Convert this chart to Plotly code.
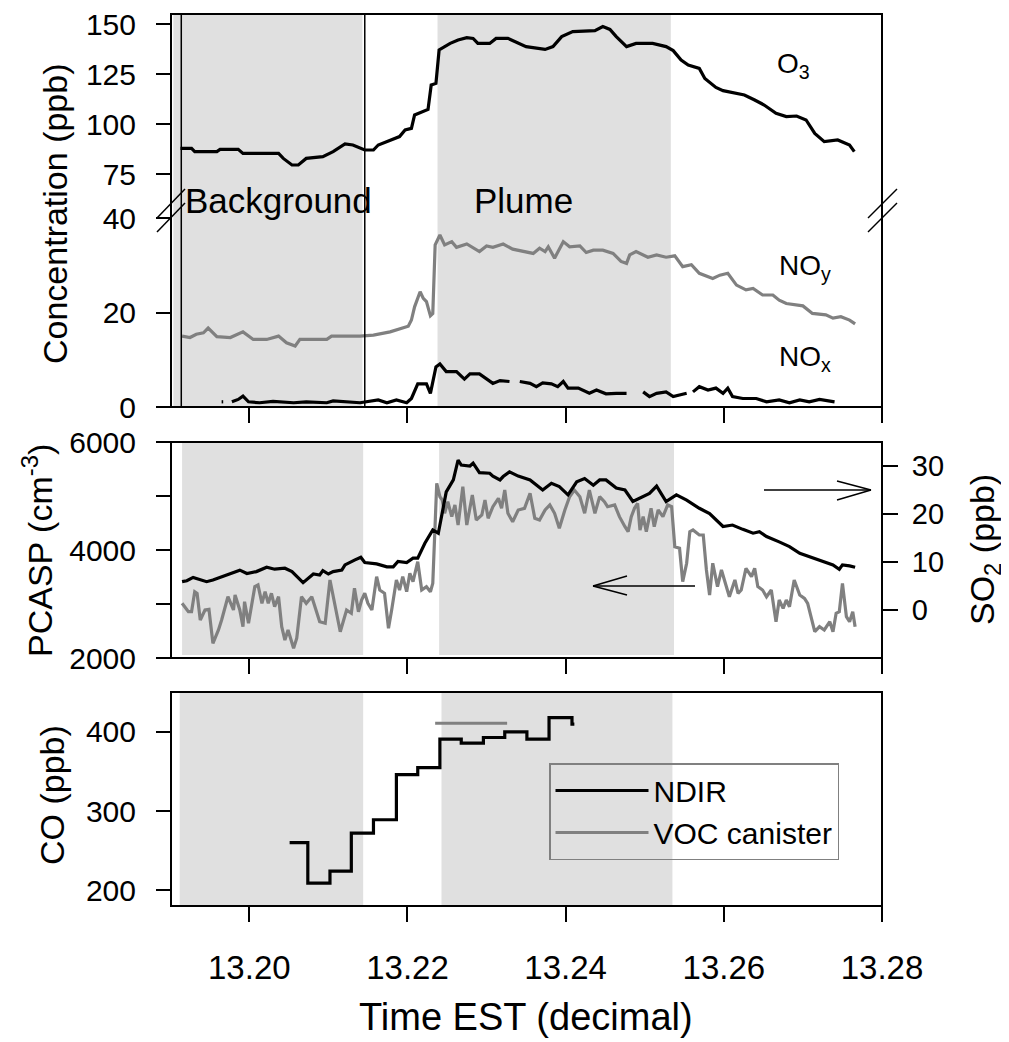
import plotly.graph_objects as go

# ---------------- data ----------------
# O3 (ppb), top panel upper segment
O3_T = [13.1913, 13.1927, 13.1931, 13.1959, 13.1963, 13.1986, 13.1992, 13.2037, 13.2043, 13.2054,
        13.2062, 13.2072, 13.2093, 13.2106, 13.2121, 13.2131, 13.2146, 13.2157, 13.2163, 13.2178,
        13.2190, 13.2197, 13.2205, 13.2209, 13.2226, 13.2230, 13.2236, 13.2240, 13.2247, 13.2254,
        13.2264, 13.2275, 13.2283, 13.2289, 13.2304, 13.2312, 13.2327, 13.2340, 13.2350, 13.2374,
        13.2384, 13.2395, 13.2409, 13.2437, 13.2447, 13.2456, 13.2464, 13.2477, 13.2489, 13.2510,
        13.2527, 13.2536, 13.2546, 13.2555, 13.2569, 13.2576, 13.2590, 13.2599, 13.2626, 13.2639,
        13.2651, 13.2666, 13.2679, 13.2692, 13.2704, 13.2715, 13.2727, 13.2744, 13.2759, 13.2765]
O3_V = [87.8, 87.8, 86.2, 86.2, 87.3, 87.3, 85.3, 85.3, 82.8, 79.5,
        79.5, 82.8, 83.7, 86.2, 90.0, 89.5, 87.0, 87.0, 89.5, 92.0,
        93.7, 97.0, 97.8, 104.5, 107.3, 119.5, 120.3, 137.0, 138.7, 140.3,
        142.0, 143.2, 142.8, 140.3, 140.3, 142.8, 142.8, 140.7, 138.7, 137.3,
        138.7, 143.7, 146.2, 146.7, 148.7, 147.3, 143.7, 138.7, 140.3, 140.3,
        138.7, 136.7, 132.0, 129.5, 127.8, 122.8, 118.3, 116.7, 114.5, 112.0,
        109.5, 105.3, 103.7, 104.0, 102.0, 95.3, 91.2, 92.0, 89.5, 86.2]

# NOy (ppb)
NOY_T = [13.1915, 13.1925, 13.1933, 13.1942, 13.1948, 13.1959, 13.1976, 13.1982, 13.1992, 13.2005,
         13.2022, 13.2037, 13.2047, 13.2058, 13.2064, 13.2098, 13.2104, 13.2140, 13.2157, 13.2178,
         13.2190, 13.2201, 13.2205, 13.2209, 13.2216, 13.2220, 13.2224, 13.2229, 13.2232, 13.2235,
         13.2241, 13.2247, 13.2256, 13.2262, 13.2275, 13.2291, 13.2300, 13.2308, 13.2321, 13.2333,
         13.2359, 13.2367, 13.2374, 13.2378, 13.2386, 13.2397, 13.2405, 13.2418, 13.2426, 13.2435,
         13.2447, 13.2460, 13.2470, 13.2477, 13.2481, 13.2489, 13.2504, 13.2515, 13.2527, 13.2538,
         13.2548, 13.2559, 13.2569, 13.2586, 13.2595, 13.2605, 13.2616, 13.2628, 13.2637, 13.2649,
         13.2662, 13.2670, 13.2679, 13.2692, 13.2700, 13.2712, 13.2729, 13.2738, 13.2748, 13.2759,
         13.2766]
NOY_V = [15.0, 14.7, 15.4, 15.7, 16.7, 14.9, 14.7, 15.2, 15.9, 14.3,
         14.3, 15.0, 13.6, 12.9, 14.3, 14.3, 15.0, 15.0, 15.2, 15.9,
         16.6, 17.1, 18.4, 21.2, 24.4, 23.0, 22.3, 19.3, 19.8, 34.3,
         36.4, 34.3, 35.0, 33.8, 34.5, 32.9, 34.1, 33.8, 34.5, 33.4,
         32.5, 33.6, 32.9, 33.9, 31.5, 35.0, 33.9, 34.1, 32.7, 33.2,
         33.2, 32.5, 30.8, 30.4, 32.2, 32.9, 31.7, 32.2, 31.7, 32.0,
         29.7, 30.1, 28.3, 27.2, 27.9, 28.3, 25.8, 24.8, 25.1, 23.7,
         23.7, 22.6, 21.9, 21.6, 21.4, 19.8, 19.5, 18.8, 19.1, 18.4,
         17.6]

# NOx (ppb), None marks data gaps
NOX_T = [13.1965, 13.1967, None,
         13.1978, 13.1986, 13.1992, 13.1999, 13.2013, 13.2030, 13.2056, 13.2072, 13.2098, 13.2106,
         13.2140, 13.2148, 13.2163, 13.2174, 13.2186, 13.2199, 13.2205, 13.2213, 13.2224, 13.2229,
         13.2236, 13.2241, 13.2249, 13.2262, 13.2272, 13.2279, 13.2291, 13.2308, 13.2317, 13.2329, None,
         13.2342, 13.2355, 13.2363, 13.2371, 13.2382, 13.2390, 13.2397, 13.2403, 13.2416, 13.2430,
         13.2439, 13.2451, 13.2464, 13.2477, None,
         13.2498, 13.2506, 13.2515, 13.2527, 13.2536, 13.2553, None,
         13.2561, 13.2569, 13.2580, 13.2590, 13.2599, 13.2605, 13.2611, 13.2624, 13.2641, 13.2654,
         13.2670, 13.2683, 13.2696, 13.2708, 13.2721, 13.2740]
NOX_V = [1.1, 1.1, None,
         1.1, 1.6, 2.3, 1.1, 0.9, 1.2, 0.9, 1.1, 0.9, 1.3,
         0.9, 1.1, 1.5, 0.9, 1.5, 0.9, 1.8, 4.9, 4.9, 2.9,
         8.5, 9.1, 7.5, 7.5, 5.9, 7.0, 7.0, 5.0, 5.6, 5.4, None,
         5.4, 5.0, 4.3, 5.1, 4.9, 4.3, 5.4, 4.0, 4.0, 2.9,
         3.6, 2.8, 2.9, 2.9, None,
         3.2, 2.2, 2.9, 3.2, 2.2, 2.9, None,
         3.2, 4.3, 3.6, 4.0, 2.9, 4.0, 2.2, 1.8, 1.8, 1.1,
         1.5, 0.9, 1.5, 1.1, 1.6, 1.1]

# PCASP (cm-3), middle panel left axis (grey)
PCASP_T = [13.1915, 13.1923, 13.1927, 13.1931, 13.1934, 13.1938, 13.1944, 13.1949, 13.1954, 13.1961,
           13.1965, 13.1969, 13.1973, 13.1980, 13.1982, 13.1988, 13.1992, 13.1994, 13.1999, 13.2007,
           13.2011, 13.2016, 13.2020, 13.2024, 13.2028, 13.2032, 13.2037, 13.2041, 13.2045, 13.2049,
           13.2056, 13.2060, 13.2066, 13.2072, 13.2079, 13.2089, 13.2096, 13.2102, 13.2108, 13.2115,
           13.2123, 13.2129, 13.2133, 13.2138, 13.2142, 13.2146, 13.2150, 13.2155, 13.2161, 13.2165,
           13.2171, 13.2176, 13.2180, 13.2186, 13.2190, 13.2194, 13.2199, 13.2203, 13.2207, 13.2213,
           13.2218, 13.2224, 13.2229, 13.2232, 13.2237, 13.2241, 13.2244, 13.2247, 13.2251, 13.2256,
           13.2260, 13.2264, 13.2270, 13.2275, 13.2282, 13.2287, 13.2294, 13.2298, 13.2302, 13.2308,
           13.2315, 13.2319, 13.2323, 13.2327, 13.2333, 13.2340, 13.2348, 13.2355, 13.2361, 13.2367,
           13.2374, 13.2380, 13.2386, 13.2392, 13.2399, 13.2405, 13.2411, 13.2418, 13.2424, 13.2430,
           13.2437, 13.2443, 13.2449, 13.2453, 13.2462, 13.2468, 13.2475, 13.2479, 13.2483, 13.2487,
           13.2491, 13.2494, 13.2498, 13.2502, 13.2508, 13.2512, 13.2517, 13.2523, 13.2529, 13.2534,
           13.2538, 13.2544, 13.2548, 13.2553, 13.2557, 13.2561, 13.2569, 13.2574, 13.2578, 13.2582,
           13.2586, 13.2592, 13.2597, 13.2603, 13.2607, 13.2614, 13.2618, 13.2622, 13.2628, 13.2635,
           13.2639, 13.2643, 13.2649, 13.2654, 13.2660, 13.2666, 13.2670, 13.2675, 13.2679, 13.2683,
           13.2689, 13.2696, 13.2702, 13.2706, 13.2710, 13.2715, 13.2721, 13.2727, 13.2734, 13.2738,
           13.2742, 13.2746, 13.2750, 13.2755, 13.2759, 13.2763, 13.2766]
PCASP_V = [3013, 2857, 2857, 3228, 3198, 2704, 2889, 2902, 2272, 2519,
           2704, 2950, 3135, 2889, 3167, 2889, 2580, 3043, 2643, 3321,
           3352, 3013, 3228, 3013, 3198, 2950, 3135, 2580, 2333, 2519,
           2180, 2365, 3135, 3013, 3135, 2672, 2643, 3445, 3013, 2487,
           2889, 2828, 3291, 2857, 3074, 3198, 3013, 2889, 3506, 3259,
           3198, 2550, 2889, 3445, 3259, 3506, 3228, 3569, 3413, 3784,
           3259, 3321, 3228, 3383, 5235, 4987, 4926, 4680, 4895, 4617,
           4834, 4463, 5172, 4463, 5019, 4556, 4648, 4926, 4587, 4802,
           4958, 4772, 5111, 4680, 4524, 4741, 4772, 5050, 4587, 4556,
           4741, 4834, 4680, 4402, 4741, 4987, 5111, 4987, 4680, 5111,
           4680, 4987, 4895, 4802, 4834, 4617, 4432, 4339, 4617, 4772,
           4865, 4370, 4617, 4339, 4772, 4432, 4741, 4617, 4834, 4802,
           4061, 4032, 3413, 3754, 4339, 4370, 4278, 4278, 3630, 3167,
           3754, 3321, 3630, 3321, 3135, 3445, 3198, 3259, 3661, 3506,
           3661, 3321, 3259, 3135, 3259, 2672, 3074, 2920, 3074, 2950,
           3445, 3167, 3105, 3013, 2796, 2487, 2580, 2519, 2672, 2487,
           2828, 2857, 3383, 2765, 2672, 2857, 2580]

# SO2 (ppb), middle panel right axis (black)
SO2_T = [13.1915, 13.1921, 13.1929, 13.1938, 13.1946, 13.1954, 13.1965, 13.1976, 13.1988, 13.1997,
         13.2009, 13.2022, 13.2032, 13.2045, 13.2054, 13.2068, 13.2081, 13.2089, 13.2093, 13.2100,
         13.2106, 13.2117, 13.2121, 13.2133, 13.2141, 13.2146, 13.2161, 13.2174, 13.2182, 13.2188,
         13.2199, 13.2207, 13.2213, 13.2222, 13.2227, 13.2232, 13.2239, 13.2249, 13.2258, 13.2264,
         13.2268, 13.2279, 13.2283, 13.2291, 13.2304, 13.2308, 13.2317, 13.2321, 13.2329, 13.2340,
         13.2355, 13.2371, 13.2382, 13.2392, 13.2403, 13.2414, 13.2424, 13.2435, 13.2443, 13.2451,
         13.2464, 13.2475, 13.2485, 13.2498, 13.2506, 13.2515, 13.2527, 13.2540, 13.2553, 13.2569,
         13.2582, 13.2599, 13.2611, 13.2624, 13.2637, 13.2645, 13.2654, 13.2670, 13.2683, 13.2696,
         13.2708, 13.2721, 13.2738, 13.2746, 13.2750, 13.2759, 13.2766]
SO2_V = [5.9, 6.1, 6.8, 6.25, 5.9, 6.25, 6.9, 7.6, 8.3, 7.6,
         8.0, 8.9, 8.5, 8.7, 8.0, 5.7, 7.5, 7.3, 8.2, 7.5,
         8.0, 8.3, 9.4, 10.4, 11.0, 9.9, 9.6, 9.0, 9.0, 10.1,
         9.9, 10.8, 10.8, 13.9, 15.4, 16.7, 16.0, 24.6, 27.1, 31.25,
         30.2, 30.0, 30.6, 28.6, 28.5, 27.9, 27.1, 27.8, 28.8, 27.9,
         27.1, 25.0, 26.4, 25.7, 24.0, 26.7, 27.4, 26.0, 27.1, 27.1,
         25.4, 25.0, 22.6, 23.6, 24.3, 25.8, 22.6, 24.0, 22.9, 21.2,
         20.1, 17.4, 17.7, 16.8, 16.0, 16.3, 15.3, 14.2, 13.2, 11.8,
         11.1, 10.4, 9.4, 8.5, 9.4, 9.2, 8.9]

# CO (ppb), bottom panel
CO_NDIR_T = [13.2051, 13.2074, 13.2102, 13.2129, 13.2157, 13.2186, 13.2213, 13.2241, 13.2268,
             13.2296, 13.2323, 13.2351, 13.2379, 13.2408, 13.2411]
CO_NDIR_V = [260, 209, 224, 272, 289, 346, 355, 391, 386, 393, 400, 391, 418, 410, 410]
CO_VOC_T = [13.2235, 13.2326]
CO_VOC_V = [411, 411]

# shaded periods (decimal hours): background and plume, per panel
SHADE_TOP = [(13.1904, 13.2143), (13.2238, 13.2533)]
SHADE_MID = [(13.1915, 13.2144), (13.2240, 13.2537)]
SHADE_BOT = [(13.1912, 13.2144), (13.2243, 13.2535)]
BG_MARKS = [13.1914, 13.2146]

X_TICKS = [13.20, 13.22, 13.24, 13.26, 13.28]
X_RANGE = [13.1901, 13.28]

# ---------------- layout helpers ----------------
# The page body adds an 8 px offset, so the figure is sized to fill the window from there.
OFF = 8
W, H = 1009 - OFF, 1042 - OFF
PLOT_LEFT, PLOT_TOP, PW, PH = 171, 14, 711, 892        # in window pixels
L, T = PLOT_LEFT - OFF, PLOT_TOP - OFF
R, B = W - L - PW, H - T - PH
PLOT_BOTTOM = PLOT_TOP + PH


def PX(px):
    return (px - PLOT_LEFT) / PW


def PY(py):
    return (PLOT_BOTTOM - py) / PH


FONT = "Liberation Sans, Arial, Helvetica, sans-serif"
BLACK = "#000000"
GREY = "#808080"
SHADE = "#e0e0e0"
LW = 3.2

fig = go.Figure()

fig.add_trace(go.Scatter(x=O3_T, y=O3_V, mode="lines", xaxis="x3", yaxis="y5",
                         line=dict(color=BLACK, width=LW), showlegend=False, name="O3"))
fig.add_trace(go.Scatter(x=NOY_T, y=NOY_V, mode="lines", xaxis="x3", yaxis="y4",
                         line=dict(color=GREY, width=LW), showlegend=False, name="NOy"))
fig.add_trace(go.Scatter(x=NOX_T, y=NOX_V, mode="lines", xaxis="x3", yaxis="y4", connectgaps=False,
                         line=dict(color=BLACK, width=LW), showlegend=False, name="NOx"))
fig.add_trace(go.Scatter(x=PCASP_T, y=PCASP_V, mode="lines", xaxis="x2", yaxis="y2",
                         line=dict(color=GREY, width=LW), showlegend=False, name="PCASP"))
fig.add_trace(go.Scatter(x=SO2_T, y=SO2_V, mode="lines", xaxis="x2", yaxis="y3",
                         line=dict(color=BLACK, width=LW), showlegend=False, name="SO2"))
fig.add_trace(go.Scatter(x=CO_NDIR_T, y=CO_NDIR_V, mode="lines", xaxis="x", yaxis="y",
                         line=dict(color=BLACK, width=LW, shape="hv"), name="NDIR"))
fig.add_trace(go.Scatter(x=CO_VOC_T, y=CO_VOC_V, mode="lines", xaxis="x", yaxis="y",
                         line=dict(color=GREY, width=LW), name="VOC canister"))

shapes = []
# shading
for (a, b) in SHADE_TOP:
    shapes.append(dict(type="rect", xref="x3", yref="paper", x0=a, x1=b, y0=PY(407), y1=PY(14),
                       fillcolor=SHADE, line=dict(width=0), layer="below"))
for (a, b) in SHADE_MID:
    shapes.append(dict(type="rect", xref="x2", yref="paper", x0=a, x1=b, y0=PY(655), y1=PY(443),
                       fillcolor=SHADE, line=dict(width=0), layer="below"))
for (a, b) in SHADE_BOT:
    shapes.append(dict(type="rect", xref="x", yref="paper", x0=a, x1=b, y0=PY(906), y1=PY(692),
                       fillcolor=SHADE, line=dict(width=0), layer="below"))
# background boundary lines in top panel
for t in BG_MARKS:
    shapes.append(dict(type="line", xref="x3", yref="paper", x0=t, x1=t, y0=PY(407), y1=PY(14),
                       line=dict(color=BLACK, width=1.5)))
# panel frames
for (ya, yb) in [(407, 14), (658, 442), (906, 692)]:
    shapes.append(dict(type="rect", xref="paper", yref="paper", x0=0, x1=1, y0=PY(ya), y1=PY(yb),
                       line=dict(color=BLACK, width=2), fillcolor="rgba(0,0,0,0)", layer="above"))
# axis-break marks
for (x0, x1) in [(157, 185), (868, 897)]:
    for off in (0, 14):
        shapes.append(dict(type="line", xref="paper", yref="paper",
                           x0=PX(x0), x1=PX(x1), y0=PY(218 + off), y1=PY(189 + off),
                           line=dict(color=BLACK, width=1.5)))
# arrows in middle panel (open heads)
for seg in [((764, 490), (871, 490)), ((871, 490), (837, 481)), ((871, 490), (837, 500)),
            ((695, 586), (593, 586)), ((593, 586), (627, 576)), ((593, 586), (627, 595))]:
    (a, b), (c, d) = seg
    shapes.append(dict(type="line", xref="paper", yref="paper",
                       x0=PX(a), x1=PX(c), y0=PY(b), y1=PY(d),
                       line=dict(color=BLACK, width=1.5)))

annotations = []


def ann(text, px, py, size, xanchor="center", angle=0):
    annotations.append(dict(text=text, xref="paper", yref="paper", x=PX(px), y=PY(py),
                            xanchor=xanchor, yanchor="middle", showarrow=False,
                            textangle=angle, font=dict(family=FONT, size=size, color=BLACK)))


ann("Background", 278, 200, 35)
ann("Plume", 523, 200, 35)
ann("O<sub>3</sub>", 775, 66, 28, xanchor="left")
ann("NO<sub>y</sub>", 777, 267, 28, xanchor="left")
ann("NO<sub>x</sub>", 777, 359, 28, xanchor="left")
ann("Concentration (ppb)", 55, 214, 34, angle=-90)
ann("PCASP (cm<sup>-3</sup>)", 37, 551, 34, angle=-90)
ann("CO (ppb)", 52, 795, 34, angle=-90)
ann("SO<sub>2</sub> (ppb)", 984, 550, 34, angle=-90)
ann("Time EST (decimal)", 526, 1017, 38)

xcommon = dict(range=X_RANGE, tickvals=X_TICKS, ticks="outside", ticklen=15, tickwidth=2,
               tickcolor=BLACK, showline=False, showgrid=False, zeroline=False, automargin=False,
               ticklabeloverflow="allow",
               tickfont=dict(family=FONT, size=33, color=BLACK))
ycommon = dict(ticks="outside", ticklen=14, tickwidth=2, tickcolor=BLACK, showline=False,
               showgrid=False, zeroline=False, ticklabelstandoff=14, automargin=False,
               ticklabeloverflow="allow",
               tickfont=dict(family=FONT, size=30, color=BLACK))

fig.update_layout(
    width=W, height=H,
    margin=dict(l=L, r=R, t=T, b=B, pad=0, autoexpand=False),
    paper_bgcolor="white", plot_bgcolor="white",
    font=dict(family=FONT, color=BLACK),
    xaxis=dict(**xcommon, domain=[0, 1], anchor="y", tickformat=".2f", ticklabelstandoff=17),
    xaxis2=dict(**xcommon, domain=[0, 1], anchor="y2", showticklabels=False, matches="x"),
    xaxis3=dict(**xcommon, domain=[0, 1], anchor="y4", showticklabels=False, matches="x"),
    yaxis=dict(**ycommon, domain=[0, PY(692)], anchor="x", range=[180, 450.5],
               tickvals=[200, 300, 400]),
    yaxis2=dict(**ycommon, domain=[PY(658), PY(442)], anchor="x2", range=[2000, 6000],
                tickvals=[2000, 4000, 6000],
                minor=dict(tickvals=[3000, 5000], ticks="outside", ticklen=14, tickwidth=2,
                           tickcolor=BLACK, showgrid=False)),
    yaxis3=dict(ticks="outside", ticklen=15, tickwidth=2, tickcolor=BLACK, showline=False,
                showgrid=False, zeroline=False, ticklabelstandoff=8, automargin=False,
                ticklabeloverflow="allow",
                tickfont=dict(family=FONT, size=29, color=BLACK),
                overlaying="y2", side="right", anchor="x2", range=[-10, 35],
                tickvals=[0, 10, 20, 30]),
    yaxis4=dict(**ycommon, domain=[PY(407), PY(218)], anchor="x3", range=[0, 40],
                tickvals=[0, 20, 40]),
    yaxis5=dict(**ycommon, domain=[PY(218), 1.0], anchor="x3", range=[53, 155],
                tickvals=[75, 100, 125, 150]),
    shapes=shapes,
    annotations=annotations,
    showlegend=True,
    legend=dict(x=PX(549), y=PY(763), xanchor="left", yanchor="top",
                bgcolor="rgba(0,0,0,0)", bordercolor=GREY, borderwidth=1.5,
                font=dict(family=FONT, size=30, color=BLACK), tracegroupgap=0,
                itemwidth=93),
)

fig.write_html("out.html")
